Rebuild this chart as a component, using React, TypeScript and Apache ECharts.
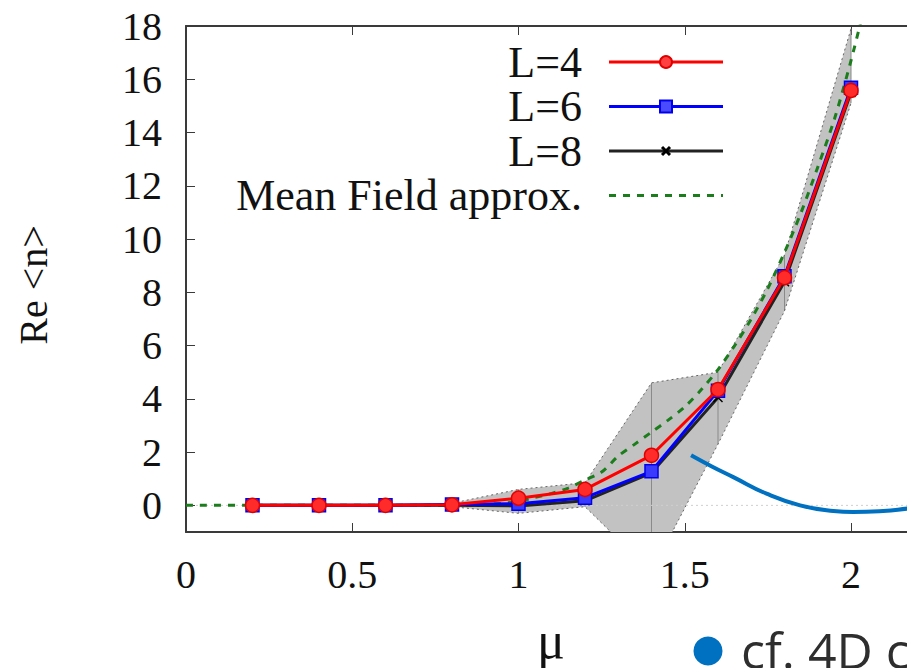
import React, { useEffect, useRef } from "react";
import * as echarts from "echarts";

// ---- data ----
const muValues = [0.2, 0.4, 0.6, 0.8, 1.0, 1.2, 1.4, 1.6, 1.8, 2.0];
const nL4 = [0.0, 0.0, 0.0, 0.02, 0.27, 0.6, 1.88, 4.35, 8.55, 15.58];
const nL6 = [0.0, 0.0, 0.0, 0.03, 0.06, 0.29, 1.28, 4.3, 8.6, 15.68];
const nL8 = [0.0, 0.0, 0.0, 0.0, -0.02, 0.17, 1.22, 4.05, 8.4, 15.5];
const bandUpper = [0.05, 0.05, 0.05, 0.08, 0.6, 0.85, 4.6, 5.0, 9.4, 17.9];
const bandLower = [-0.05, -0.05, -0.05, -0.05, -0.3, -0.05, -2.5, 2.3, 7.3, 15.1];

const mfMu = [0, 0.2, 0.4, 0.6, 0.8, 0.9, 1.0, 1.05, 1.1, 1.15, 1.2, 1.25, 1.3, 1.35, 1.4, 1.45, 1.5, 1.55, 1.6, 1.65, 1.7, 1.75, 1.8, 1.85, 1.9, 1.95, 2.0, 2.05];
const mfN = [0, 0, 0, 0, 0, 0.03, 0.15, 0.3, 0.45, 0.65, 0.95, 1.25, 1.85, 2.3, 2.75, 3.2, 3.7, 4.35, 5.1, 6.0, 7.0, 8.15, 9.5, 11.0, 12.7, 14.5, 16.7, 19.2];

const cfMu = [1.519, 1.58, 1.646, 1.746, 1.847, 1.947, 2.006, 2.097, 2.17, 2.2];
const cfN = [1.88, 1.47, 1.06, 0.44, 0.0, -0.21, -0.25, -0.21, -0.12, -0.08];

const xTicks = [0, 0.5, 1, 1.5, 2];
const yTicks = [0, 2, 4, 6, 8, 10, 12, 14, 16, 18];

const legendNames = ["L=4", "L=6", "L=8", "Mean Field approx."];
const xAxisTitle = "μ";
const yAxisTitle = "Re <n>";
const noteText = "cf. 4D c";

const SERIF = "'Liberation Serif', 'Times New Roman', serif";

const pairs = (xs: number[], ys: number[]) => xs.map((x, i) => [x, ys[i]]);

export default function App() {
  const ref = useRef<HTMLDivElement>(null);
  useEffect(() => {
    if (!ref.current) return;
    const chart = echarts.init(ref.current, null, { renderer: "svg" });
    const axisColor = "#3a3a3a";
    const labelStyle = { fontFamily: SERIF, fontSize: 40, color: "#111" };

    const legendGraphics: any[] = [];
    const legY = [62, 106.5, 151, 195.5];
    const legColors = ["#ff0000", "#0000ff", "#222222", "#1b7d1b"];
    legendNames.forEach((name, i) => {
      legendGraphics.push({
        type: "text",
        x: 582,
        y: legY[i],
        style: { text: name, font: `44px ${SERIF}`, fill: "#111", align: "right", verticalAlign: "middle" },
        z: 100,
      });
      legendGraphics.push({
        type: "line",
        shape: { x1: 609, y1: legY[i], x2: 723, y2: legY[i] },
        style: {
          stroke: legColors[i],
          lineWidth: 3,
          lineDash: i === 3 ? [7, 7] : null,
        },
        z: 100,
      });
    });
    legendGraphics.push({ type: "circle", shape: { cx: 666, cy: legY[0], r: 6 }, style: { fill: "#ff4040", stroke: "#e00000", lineWidth: 2 }, z: 101 });
    legendGraphics.push({ type: "rect", shape: { x: 660, y: legY[1] - 6, width: 12, height: 12 }, style: { fill: "#4a4aff", stroke: "#0000ee", lineWidth: 2 }, z: 101 });
    legendGraphics.push({ type: "line", shape: { x1: 662, y1: legY[2] - 4, x2: 670, y2: legY[2] + 4 }, style: { stroke: "#000", lineWidth: 3 }, z: 101 });
    legendGraphics.push({ type: "line", shape: { x1: 662, y1: legY[2] + 4, x2: 670, y2: legY[2] - 4 }, style: { stroke: "#000", lineWidth: 3 }, z: 101 });

    const xMark = "path://M0,1 L1,0 L5,4 L9,0 L10,1 L6,5 L10,9 L9,10 L5,6 L1,10 L0,9 L4,5 Z";

    chart.setOption({
      animation: false,
      backgroundColor: "#fff",
      grid: { left: 186, top: 26, height: 506, width: 831.25, outerBoundsMode: "none" },
      xAxis: [
        {
          type: "value",
          min: 0,
          max: 2.5,
          interval: 0.5,
          position: "bottom",
          axisLine: { show: true, onZero: false, lineStyle: { color: axisColor, width: 2 } },
          axisTick: { show: true, inside: true, length: 9, customValues: xTicks, lineStyle: { color: axisColor, width: 1 } },
          axisLabel: { ...labelStyle, margin: 22, customValues: xTicks },
          splitLine: { show: false },
        },
        {
          type: "value",
          min: 0,
          max: 2.5,
          interval: 0.5,
          position: "top",
          axisLine: { show: true, onZero: false, lineStyle: { color: axisColor, width: 2 } },
          axisTick: { show: true, inside: true, length: 9, customValues: xTicks, lineStyle: { color: axisColor, width: 1 } },
          axisLabel: { show: false },
          splitLine: { show: false },
        },
      ],
      yAxis: {
        type: "value",
        min: -1,
        max: 18,
        axisLine: { show: true, onZero: false, lineStyle: { color: axisColor, width: 2 } },
        axisTick: { show: true, inside: true, length: 9, customValues: yTicks, lineStyle: { color: axisColor, width: 1 } },
        axisLabel: { ...labelStyle, margin: 24, customValues: yTicks },
        splitLine: { show: false },
      },
      graphic: [
        {
          type: "text",
          x: 33,
          y: 285,
          rotation: Math.PI / 2,
          style: { text: yAxisTitle, font: `40px ${SERIF}`, fill: "#111", align: "center", verticalAlign: "middle" },
        },
        {
          type: "text",
          x: 551,
          y: 640,
          style: { text: xAxisTitle, font: `52px ${SERIF}`, fill: "#111", align: "center", verticalAlign: "middle" },
        },
        { type: "circle", shape: { cx: 708, cy: 651, r: 14.5 }, style: { fill: "#0070c0" } },
        {
          type: "text",
          x: 741,
          y: 650,
          style: { text: noteText, font: "50px 'Open Sans', 'Noto Sans', sans-serif", fill: "#2e2e2e", align: "left", verticalAlign: "middle" },
        },
        ...legendGraphics,
      ],
      series: [
        {
          type: "custom",
          name: "band",
          clip: true,
          silent: true,
          z: 1,
          data: [[0, 0]],
          encode: { x: 0, y: 1 },
          renderItem: (params: any, api: any) => {
            const up = muValues.map((x, i) => api.coord([x, bandUpper[i]]));
            const lo = muValues.map((x, i) => api.coord([x, bandLower[i]]));
            const children: any[] = [
              { type: "polygon", shape: { points: up.concat(lo.slice().reverse()) }, style: { fill: "#c2c2c2" } },
            ];
            for (let i = 3; i < muValues.length; i++) {
              children.push({
                type: "line",
                shape: { x1: up[i][0], y1: up[i][1], x2: lo[i][0], y2: lo[i][1] },
                style: { stroke: "#8a8a8a", lineWidth: 1 },
              });
            }
            children.push({ type: "polyline", shape: { points: up.slice(3) }, style: { stroke: "#666", lineWidth: 1, lineDash: [2, 3], fill: null } });
            children.push({ type: "polyline", shape: { points: lo.slice(3) }, style: { stroke: "#666", lineWidth: 1, lineDash: [2, 3], fill: null } });
            return { type: "group", children };
          },
        },
        {
          type: "line",
          name: "zero",
          data: [[0, 0], [2.5, 0]],
          symbol: "none",
          silent: true,
          z: 2,
          lineStyle: { color: "#cfcfcf", width: 1, type: [2, 3] },
        },
        {
          type: "line",
          name: legendNames[3],
          data: pairs(mfMu, mfN),
          symbol: "none",
          smooth: 0.3,
          z: 3,
          lineStyle: { color: "#1b7d1b", width: 3, type: [7, 7] },
        },
        {
          type: "line",
          name: legendNames[2],
          data: pairs(muValues, nL8),
          symbol: xMark,
          symbolSize: 10,
          z: 4,
          lineStyle: { color: "#222", width: 3 },
          itemStyle: { color: "#000" },
        },
        {
          type: "line",
          name: legendNames[1],
          data: pairs(muValues, nL6),
          symbol: "rect",
          symbolSize: 13,
          z: 5,
          lineStyle: { color: "#0000ff", width: 3 },
          itemStyle: { color: "#3a3aff", borderColor: "#0000ee", borderWidth: 1.5 },
        },
        {
          type: "line",
          name: legendNames[0],
          data: pairs(muValues, nL4),
          symbol: "circle",
          symbolSize: 14,
          z: 6,
          lineStyle: { color: "#ff0000", width: 3 },
          itemStyle: { color: "#ff2a2a", borderColor: "#e00000", borderWidth: 1.5 },
        },
        {
          type: "line",
          name: "cf",
          data: pairs(cfMu, cfN),
          symbol: "none",
          smooth: true,
          z: 7,
          lineStyle: { color: "#0070c0", width: 4 },
        },
      ],
    });
    return () => chart.dispose();
  }, []);
  return (
    <div
      ref={ref}
      style={{ position: "fixed", left: 0, top: 0, width: 907, height: 668, background: "#fff" }}
    />
  );
}
